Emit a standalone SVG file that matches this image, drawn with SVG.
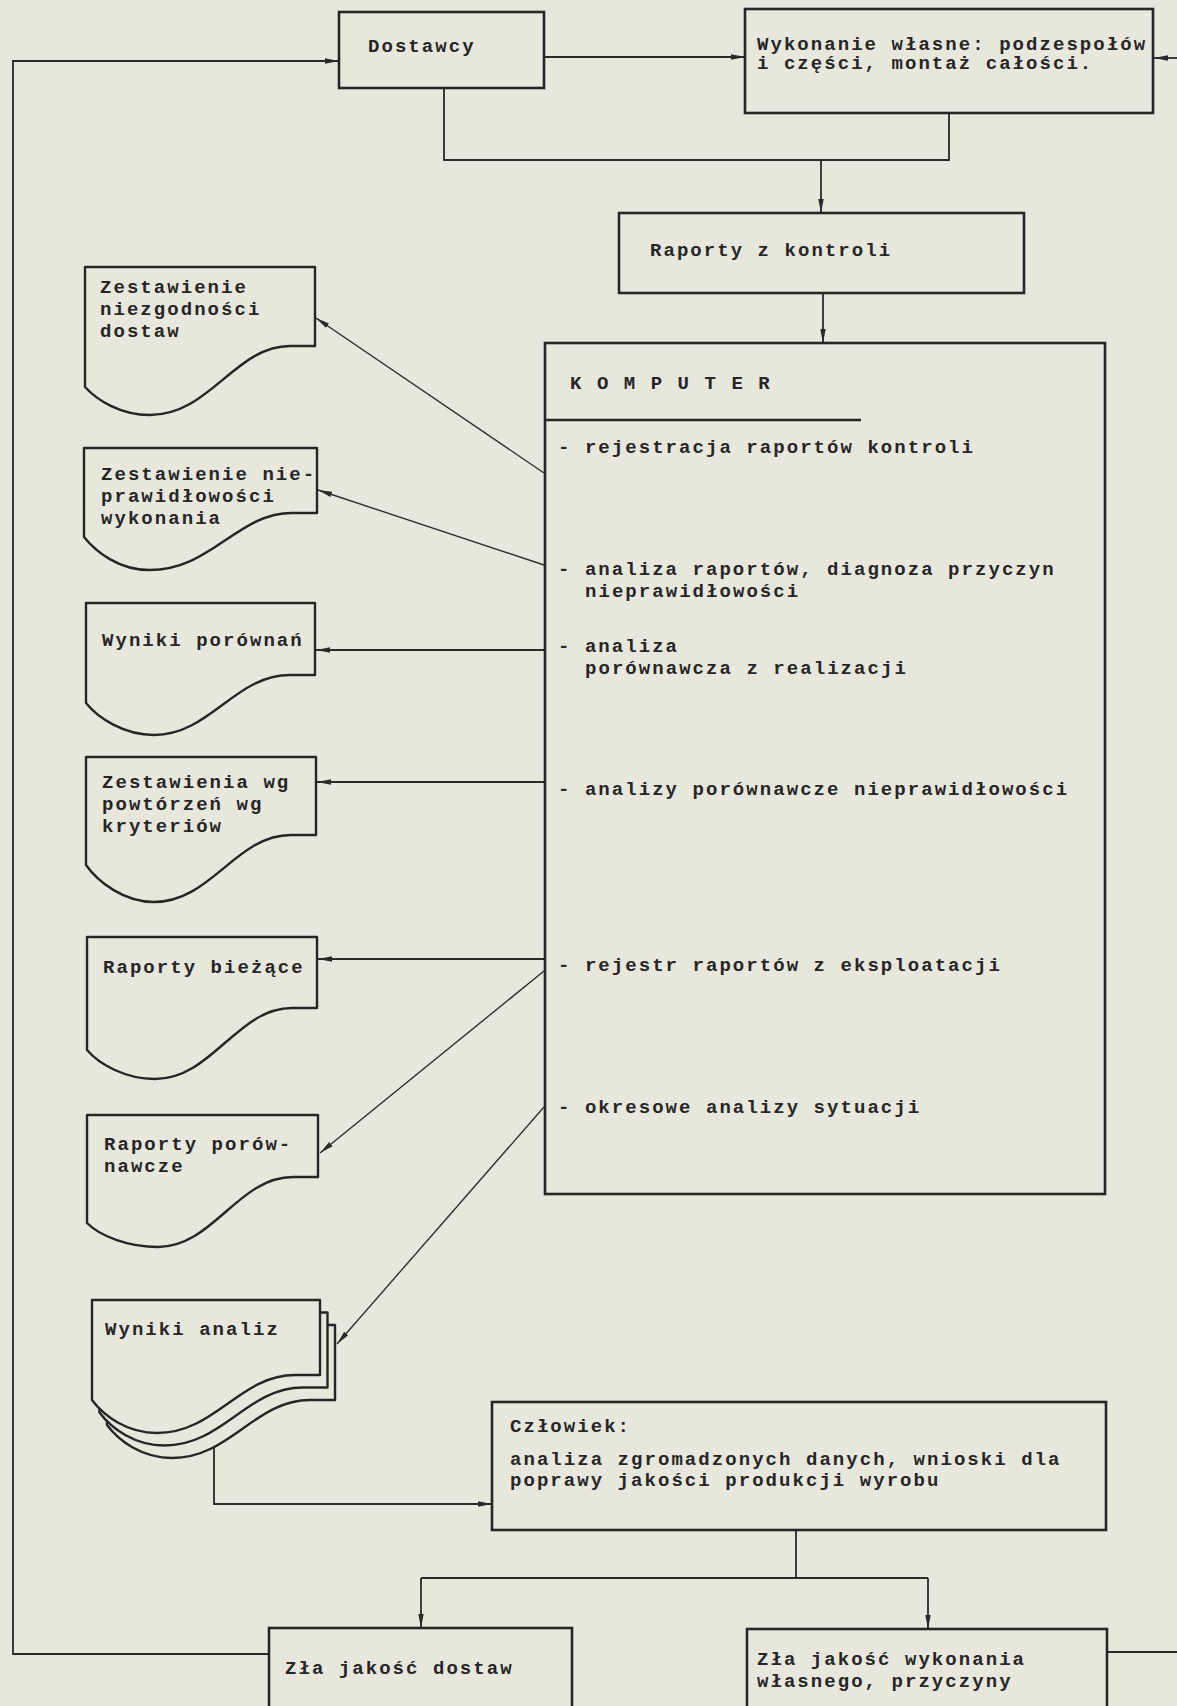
<svg xmlns="http://www.w3.org/2000/svg" width="1177" height="1706" viewBox="0 0 1177 1706">
  <style>
    .bg { fill: #e8e7dc; }
    .box { fill: none; stroke: #262626; stroke-width: 2.6; }
    .doc { fill: #e8e7dc; stroke: #262626; stroke-width: 2.4; stroke-linejoin: round; }
    .ln { fill: none; stroke: #2a2a2a; stroke-width: 1.8; }
    .dg { fill: none; stroke: #2e2e2e; stroke-width: 1.4; }
    .t { font-family: "Liberation Mono", "DejaVu Sans Mono", monospace; font-size: 19px; font-weight: bold; letter-spacing: 2.05px; fill: #262626; }
  </style>
  <defs>
    <marker id="ah" viewBox="0 0 14 7" refX="14" refY="3.5" markerWidth="14" markerHeight="7" markerUnits="userSpaceOnUse" orient="auto">
      <path d="M0,0.8 L14,3.5 L0,6.2 z" fill="#2a2a2a"/>
    </marker>
    <!-- front sheet of the stacked document -->
    <path id="sheet" d="M92,1300 H320 V1375 H295 C240,1375 215,1433 157,1433 C127,1433 104,1416 92,1400 Z"/>
  </defs>

  <rect class="bg" x="0" y="0" width="1177" height="1706"/>

  <!-- connectors -->
  <g id="connectors">
    <!-- feedback loop to suppliers -->
    <polyline class="ln" points="269,1654 13,1654 13,61 339,61" marker-end="url(#ah)"/>
    <!-- feedback loop to own production (runs off the right edge) -->
    <line class="ln" x1="1107" y1="1652" x2="1177" y2="1652"/>
    <line class="ln" x1="1177" y1="58" x2="1154" y2="58" marker-end="url(#ah)"/>
    <!-- Dostawcy -> Wykonanie -->
    <line class="ln" x1="544" y1="57" x2="745" y2="57" marker-end="url(#ah)"/>
    <!-- both sources -> Raporty z kontroli -->
    <polyline class="ln" points="444,88 444,160 949,160 949,113"/>
    <line class="ln" x1="821" y1="160" x2="821" y2="213" marker-end="url(#ah)"/>
    <!-- Raporty -> KOMPUTER -->
    <line class="ln" x1="823" y1="293" x2="823" y2="343" marker-end="url(#ah)"/>
    <!-- KOMPUTER -> printouts -->
    <line class="dg" x1="544" y1="473" x2="316" y2="318" marker-end="url(#ah)"/>
    <line class="dg" x1="544" y1="565" x2="318" y2="490" marker-end="url(#ah)"/>
    <line class="ln" x1="545" y1="650" x2="316" y2="650" marker-end="url(#ah)"/>
    <line class="ln" x1="545" y1="782" x2="317" y2="782" marker-end="url(#ah)"/>
    <line class="ln" x1="545" y1="959" x2="318" y2="959" marker-end="url(#ah)"/>
    <line class="dg" x1="544" y1="971" x2="320" y2="1153" marker-end="url(#ah)"/>
    <line class="dg" x1="544" y1="1107" x2="337" y2="1344" marker-end="url(#ah)"/>
    <!-- Wyniki analiz -> Człowiek -->
    <polyline class="ln" points="214,1448 214,1504 492,1504" marker-end="url(#ah)"/>
    <!-- Człowiek -> conclusions -->
    <polyline class="ln" points="796,1530 796,1578"/>
    <line class="ln" x1="421" y1="1578" x2="928" y2="1578"/>
    <line class="ln" x1="421" y1="1578" x2="421" y2="1628" marker-end="url(#ah)"/>
    <line class="ln" x1="928" y1="1578" x2="928" y2="1629" marker-end="url(#ah)"/>
  </g>

  <g id="dostawcy">
    <rect class="box" x="339" y="12" width="205" height="76"/>
    <text class="t" x="368" y="52">Dostawcy</text>
  </g>

  <g id="wykonanie">
    <rect class="box" x="745" y="9" width="408" height="104"/>
    <text class="t" x="757" y="50">Wykonanie własne: podzespołów</text>
    <text class="t" x="757" y="69">i części, montaż całości.</text>
  </g>

  <g id="raporty-kontroli">
    <rect class="box" x="619" y="213" width="405" height="80"/>
    <text class="t" x="650" y="256">Raporty z kontroli</text>
  </g>

  <g id="komputer">
    <rect class="box" x="545" y="343" width="560" height="851"/>
    <line class="box" x1="545" y1="420" x2="861" y2="420"/>
    <text class="t" x="570" y="389">K O M P U T E R</text>
    <text class="t" x="558" y="453">- rejestracja raportów kontroli</text>
    <text class="t" x="558" y="575">- analiza raportów, diagnoza przyczyn</text>
    <text class="t" x="585" y="597">nieprawidłowości</text>
    <text class="t" x="558" y="652">- analiza</text>
    <text class="t" x="585" y="674">porównawcza z realizacji</text>
    <text class="t" x="558" y="795">- analizy porównawcze nieprawidłowości</text>
    <text class="t" x="558" y="971">- rejestr raportów z eksploatacji</text>
    <text class="t" x="558" y="1113">- okresowe analizy sytuacji</text>
  </g>

  <g id="doc-niezgodnosci">
    <path class="doc" d="M85,267 H315 V346 H290 C235,346 210,415 150,415 C120,415 97,400 85,387 Z"/>
    <text class="t" x="100" y="293">Zestawienie</text>
    <text class="t" x="100" y="315">niezgodności</text>
    <text class="t" x="100" y="337">dostaw</text>
  </g>

  <g id="doc-nieprawidlowosci">
    <path class="doc" d="M84,448 H317 V513 H292 C237,513 212,570 149,570 C119,570 96,552 84,537 Z"/>
    <text class="t" x="101" y="480">Zestawienie nie-</text>
    <text class="t" x="101" y="502">prawidłowości</text>
    <text class="t" x="101" y="524">wykonania</text>
  </g>

  <g id="doc-wyniki-porownan">
    <path class="doc" d="M86,603 H315 V675 H290 C235,675 210,735 154,735 C124,735 98,718 86,703 Z"/>
    <text class="t" x="102" y="646">Wyniki porównań</text>
  </g>

  <g id="doc-zestawienia">
    <path class="doc" d="M86,757 H316 V835 H291 C236,835 211,902 154,902 C124,902 98,882 86,865 Z"/>
    <text class="t" x="102" y="788">Zestawienia wg</text>
    <text class="t" x="102" y="810">powtórzeń wg</text>
    <text class="t" x="102" y="832">kryteriów</text>
  </g>

  <g id="doc-raporty-biezace">
    <path class="doc" d="M87,937 H317 V1008 H292 C237,1008 212,1079 155,1079 C125,1079 99,1064 87,1050 Z"/>
    <text class="t" x="103" y="973">Raporty bieżące</text>
  </g>

  <g id="doc-raporty-porownawcze">
    <path class="doc" d="M87,1115 H318 V1177 H293 C238,1177 213,1247 158,1247 C128,1247 100,1236 87,1223 Z"/>
    <text class="t" x="104" y="1150">Raporty porów-</text>
    <text class="t" x="104" y="1172">nawcze</text>
  </g>

  <g id="doc-wyniki-analiz">
    <use href="#sheet" class="doc" transform="translate(15,25)"/>
    <use href="#sheet" class="doc" transform="translate(7.5,12.5)"/>
    <use href="#sheet" class="doc"/>
    <text class="t" x="105" y="1335">Wyniki analiz</text>
  </g>

  <g id="czlowiek">
    <rect class="box" x="492" y="1402" width="614" height="128"/>
    <text class="t" x="510" y="1432">Człowiek:</text>
    <text class="t" x="510" y="1465">analiza zgromadzonych danych, wnioski dla</text>
    <text class="t" x="510" y="1486">poprawy jakości produkcji wyrobu</text>
  </g>

  <g id="zla-jakosc-dostaw">
    <rect class="box" x="269" y="1628" width="303" height="90"/>
    <text class="t" x="285" y="1674">Zła jakość dostaw</text>
  </g>

  <g id="zla-jakosc-wykonania">
    <rect class="box" x="747" y="1629" width="360" height="90"/>
    <text class="t" x="757" y="1665">Zła jakość wykonania</text>
    <text class="t" x="757" y="1687">własnego, przyczyny</text>
  </g>
</svg>
